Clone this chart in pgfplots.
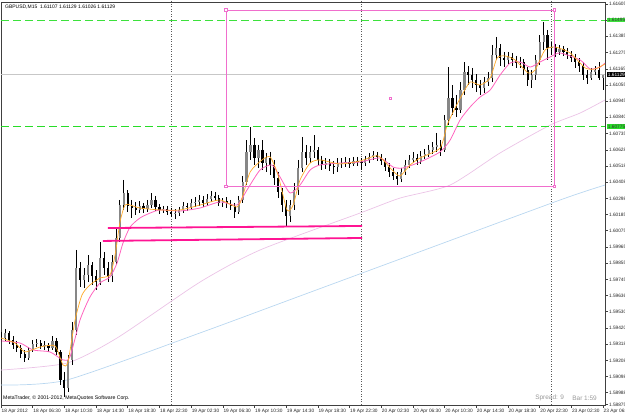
\documentclass[border=0pt]{standalone}
\usepackage{pgfplots}
\usepackage{pgfplotstable}
\pgfplotsset{compat=1.18}
\usepackage{fontspec}
\setmainfont{Liberation Sans}
\definecolor{maorange}{RGB}{255,170,40}
\definecolor{mapink}{RGB}{255,100,190}
\definecolor{malav}{RGB}{235,195,230}
\definecolor{mablue}{RGB}{185,215,240}
\definecolor{lvgreen}{RGB}{60,225,60}
\definecolor{lvgreenb}{RGB}{40,220,40}
\definecolor{rectpink}{RGB}{240,110,205}
\definecolor{trendpink}{RGB}{255,20,147}
\definecolor{bullgray}{RGB}{135,135,135}

\pgfplotstableread{
b o h l c
0 1.59367 1.59394 1.59327 1.59354
2 1.59354 1.59415 1.59334 1.59388
4 1.59388 1.59401 1.59313 1.59340
6 1.59340 1.59367 1.59280 1.59307
8 1.59307 1.59334 1.59260 1.59286
10 1.59286 1.59307 1.59219 1.59246
12 1.59246 1.59273 1.59192 1.59219
14 1.59219 1.59293 1.59206 1.59273
16 1.59273 1.59340 1.59260 1.59313
18 1.59313 1.59347 1.59293 1.59320
20 1.59320 1.59340 1.59280 1.59300
22 1.59300 1.59334 1.59273 1.59307
24 1.59307 1.59320 1.59260 1.59286
26 1.59286 1.59367 1.59273 1.59334
28 1.59334 1.59354 1.59239 1.59260
30 1.59260 1.59273 1.59037 1.59071
32 1.59071 1.59125 1.58956 1.59017
34 1.59017 1.59239 1.58990 1.59206
36 1.59206 1.59462 1.59172 1.59408
38 1.59408 1.59947 1.59374 1.59826
40 1.59826 1.59866 1.59698 1.59745
42 1.59745 1.59826 1.59691 1.59778
44 1.59778 1.59913 1.59731 1.59846
46 1.59846 1.59866 1.59711 1.59772
48 1.59772 1.59812 1.59677 1.59731
50 1.59731 1.60001 1.59711 1.59893
52 1.59893 1.59934 1.59778 1.59826
54 1.59826 1.59866 1.59731 1.59772
56 1.59772 1.59913 1.59731 1.59866
58 1.59866 1.60095 1.59846 1.60028
60 1.60028 1.60284 1.60001 1.60250
62 1.60250 1.60419 1.60217 1.60331
64 1.60331 1.60351 1.60203 1.60244
66 1.60244 1.60284 1.60163 1.60230
68 1.60230 1.60271 1.60183 1.60217
70 1.60217 1.60277 1.60196 1.60244
72 1.60244 1.60264 1.60196 1.60223
74 1.60223 1.60284 1.60203 1.60250
76 1.60250 1.60331 1.60230 1.60284
78 1.60284 1.60311 1.60210 1.60237
80 1.60237 1.60257 1.60190 1.60217
82 1.60217 1.60244 1.60196 1.60223
84 1.60223 1.60244 1.60183 1.60203
86 1.60203 1.60230 1.60169 1.60190
88 1.60190 1.60223 1.60156 1.60196
90 1.60196 1.60237 1.60176 1.60217
92 1.60217 1.60271 1.60196 1.60244
94 1.60244 1.60264 1.60210 1.60237
96 1.60237 1.60291 1.60217 1.60264
98 1.60264 1.60304 1.60237 1.60271
100 1.60271 1.60318 1.60244 1.60284
102 1.60284 1.60311 1.60237 1.60264
104 1.60264 1.60324 1.60244 1.60291
106 1.60291 1.60345 1.60271 1.60311
108 1.60311 1.60338 1.60277 1.60297
110 1.60297 1.60318 1.60244 1.60264
112 1.60264 1.60297 1.60237 1.60277
114 1.60277 1.60304 1.60230 1.60257
116 1.60257 1.60284 1.60217 1.60244
118 1.60244 1.60264 1.60163 1.60203
120 1.60203 1.60311 1.60190 1.60284
122 1.60284 1.60446 1.60264 1.60405
124 1.60405 1.60688 1.60385 1.60608
126 1.60608 1.60776 1.60554 1.60655
128 1.60655 1.60702 1.60520 1.60567
130 1.60567 1.60655 1.60500 1.60621
132 1.60621 1.60688 1.60486 1.60533
134 1.60533 1.60601 1.60473 1.60567
136 1.60567 1.60608 1.60452 1.60520
138 1.60520 1.60554 1.60385 1.60432
140 1.60432 1.60473 1.60297 1.60338
142 1.60338 1.60365 1.60203 1.60250
144 1.60250 1.60284 1.60102 1.60176
146 1.60176 1.60284 1.60136 1.60250
148 1.60250 1.60399 1.60217 1.60351
150 1.60351 1.60554 1.60318 1.60500
152 1.60500 1.60709 1.60473 1.60608
154 1.60608 1.60655 1.60520 1.60567
156 1.60567 1.60648 1.60533 1.60608
158 1.60608 1.60722 1.60567 1.60621
160 1.60621 1.60641 1.60513 1.60554
162 1.60554 1.60581 1.60486 1.60520
164 1.60520 1.60567 1.60493 1.60533
166 1.60533 1.60560 1.60479 1.60513
168 1.60513 1.60547 1.60459 1.60506
170 1.60506 1.60567 1.60473 1.60527
172 1.60527 1.60567 1.60500 1.60533
174 1.60533 1.60574 1.60506 1.60540
176 1.60540 1.60567 1.60500 1.60527
178 1.60527 1.60574 1.60513 1.60547
180 1.60547 1.60574 1.60513 1.60540
182 1.60540 1.60567 1.60486 1.60533
184 1.60533 1.60581 1.60513 1.60554
186 1.60554 1.60601 1.60533 1.60574
188 1.60574 1.60614 1.60554 1.60587
190 1.60587 1.60608 1.60547 1.60574
192 1.60574 1.60594 1.60520 1.60547
194 1.60547 1.60567 1.60479 1.60506
196 1.60506 1.60533 1.60439 1.60473
198 1.60473 1.60500 1.60419 1.60446
200 1.60446 1.60473 1.60385 1.60426
202 1.60426 1.60500 1.60405 1.60473
204 1.60473 1.60554 1.60452 1.60520
206 1.60520 1.60587 1.60500 1.60554
208 1.60554 1.60608 1.60533 1.60567
210 1.60567 1.60594 1.60520 1.60547
212 1.60547 1.60614 1.60527 1.60581
214 1.60581 1.60628 1.60560 1.60594
216 1.60594 1.60655 1.60574 1.60621
218 1.60621 1.60675 1.60594 1.60641
220 1.60641 1.60736 1.60608 1.60655
222 1.60655 1.60688 1.60581 1.60621
224 1.60621 1.60857 1.60608 1.60823
226 1.60823 1.61180 1.60789 1.60971
228 1.60971 1.61059 1.60857 1.60904
230 1.60904 1.60992 1.60843 1.60891
232 1.60891 1.61079 1.60870 1.61025
234 1.61025 1.61214 1.60992 1.61147
236 1.61147 1.61187 1.61059 1.61126
238 1.61126 1.61174 1.61039 1.61093
240 1.61093 1.61133 1.61012 1.61059
242 1.61059 1.61093 1.60992 1.61039
244 1.61039 1.61113 1.61005 1.61079
246 1.61079 1.61147 1.61052 1.61106
248 1.61106 1.61329 1.61079 1.61261
250 1.61261 1.61383 1.61228 1.61308
252 1.61308 1.61335 1.61187 1.61241
254 1.61241 1.61282 1.61180 1.61228
256 1.61228 1.61282 1.61201 1.61248
258 1.61248 1.61275 1.61187 1.61228
260 1.61228 1.61255 1.61174 1.61207
262 1.61207 1.61248 1.61174 1.61214
264 1.61214 1.61234 1.61126 1.61160
266 1.61160 1.61180 1.61052 1.61093
268 1.61093 1.61160 1.61039 1.61126
270 1.61126 1.61261 1.61093 1.61228
272 1.61228 1.61396 1.61194 1.61349
274 1.61349 1.61484 1.61295 1.61396
276 1.61396 1.61430 1.61228 1.61308
278 1.61308 1.61349 1.61261 1.61315
280 1.61315 1.61335 1.61248 1.61282
282 1.61282 1.61329 1.61261 1.61302
284 1.61302 1.61322 1.61255 1.61282
286 1.61282 1.61308 1.61234 1.61261
288 1.61261 1.61288 1.61214 1.61241
290 1.61241 1.61268 1.61174 1.61214
292 1.61214 1.61241 1.61147 1.61187
294 1.61187 1.61214 1.61093 1.61126
296 1.61126 1.61160 1.61066 1.61106
298 1.61106 1.61174 1.61093 1.61147
300 1.61147 1.61187 1.61126 1.61160
302 1.61160 1.61214 1.61093 1.61107
304 1.61107 1.61129 1.61026 1.61129
}\candles

\begin{document}
\begin{tikzpicture}[x=1bp,y=1bp]
\useasboundingbox (0,0) rectangle (625,416);
\begin{axis}[
  at={(1bp,11bp)}, anchor=south west,
  scale only axis, width=604bp, height=403bp,
  xmin=0, xmax=305, ymin=1.589023, ymax=1.616185,
  clip mode=individual,
  axis line style={black!75, line width=0.6bp},
  xtick pos=bottom, ytick pos=right, yticklabel pos=right,
  tick align=outside, major tick length=3bp,
  tick style={black!75, line width=0.5bp},
  scaled y ticks=false, scaled x ticks=false,
  ticklabel style={font=\fontsize{4.8}{5.5}\selectfont, text=black!85},
  xticklabel style={anchor=north west, inner xsep=0.5bp, inner ysep=0.5bp},
  yticklabel style={anchor=west, inner xsep=0.8bp},
  xtick={0,16,...,304},
  xticklabels={18 Apr 2012,18 Apr 06:30,18 Apr 10:30,18 Apr 14:30,18 Apr 18:30,18 Apr 22:30,19 Apr 02:30,19 Apr 06:30,19 Apr 10:30,19 Apr 14:30,19 Apr 18:30,19 Apr 22:30,20 Apr 02:30,20 Apr 06:30,20 Apr 10:30,20 Apr 14:30,20 Apr 18:30,20 Apr 22:30,23 Apr 02:30,23 Apr 06:30},
  ytick={1.61605,1.61496,1.61387,1.61277,1.61168,1.61059,1.60950,1.60841,1.60732,1.60622,1.60513,1.60404,1.60295,1.60186,1.60077,1.59967,1.59858,1.59749,1.59640,1.59531,1.59422,1.59312,1.59203,1.59094,1.58985,1.58905},
  yticklabels={1.61605,,1.61385,1.61275,1.61165,1.61055,1.60945,1.60840,1.60735,1.60628,1.60518,1.60408,1.60298,1.60185,1.60075,1.59965,1.59855,1.59745,1.59636,1.59530,1.59420,1.59318,1.59208,1.59098,1.58988,1.58875},
]
% day separators
\addplot[black!65, line width=0.5bp, dash pattern=on 1bp off 1.5bp, forget plot] coordinates {(86,1.585) (86,1.62)};
\addplot[black!65, line width=0.5bp, dash pattern=on 1bp off 1.5bp, forget plot] coordinates {(182,1.585) (182,1.62)};
\addplot[black!65, line width=0.5bp, dash pattern=on 1bp off 1.5bp, forget plot] coordinates {(278,1.585) (278,1.62)};
% bid line
\addplot[black!22, line width=0.5bp, forget plot] coordinates {(0,1.61129) (305,1.61129)};
% slow moving averages
\addplot[malav, line width=0.7bp, smooth, tension=0.4, forget plot] coordinates {
(0,1.59138) (33.3,1.59185) (58.6,1.59354) (100.5,1.59731) (130.8,1.59947) (181.3,1.60196) (201.5,1.60297) (226.8,1.60385) (252,1.60601) (277.3,1.60789) (292.4,1.60870) (305,1.60958)};
\addplot[mablue, line width=0.7bp, smooth, tension=0.4, forget plot] coordinates {
(0,1.59037) (33.3,1.59071) (100.5,1.59388) (151,1.59637) (201.5,1.59886) (282.3,1.60284) (305,1.60385)};
% candles: wicks
\addplot[draw=none, mark=none, forget plot,
  error bars/.cd, y dir=minus, y explicit, error mark=none,
  error bar style={draw=black, line width=0.7bp}]
  table[x=b, y=h, y error minus expr={\thisrow{h}-\thisrow{l}}] {\candles};
% bullish bodies
\addplot[draw=none, mark=none, forget plot,
  error bars/.cd, y dir=minus, y explicit, error mark=none,
  error bar style={draw=bullgray, line width=2.2bp}]
  table[x=b, y=c, y error minus expr={max(\thisrow{c}-\thisrow{o},0)}] {\candles};
% bearish bodies
\addplot[draw=none, mark=none, forget plot,
  error bars/.cd, y dir=minus, y explicit, error mark=none,
  error bar style={draw=black, line width=2.2bp}]
  table[x=b, y=o, y error minus expr={max(\thisrow{o}-\thisrow{c},0)}] {\candles};
% fast moving averages
\addplot[mapink, line width=0.8bp, smooth, tension=0.4, forget plot] coordinates {
(0,1.59334) (9.6,1.59320) (16.2,1.59273) (24.7,1.59260) (31.3,1.59206) (34.8,1.59226) (39.9,1.59475) (44.9,1.59630) (50,1.59725) (55,1.59765) (58.6,1.59859) (61.6,1.59994) (65.2,1.60102) (70.2,1.60163) (75.3,1.60196) (80.3,1.60217) (90.4,1.60210) (100.5,1.60230) (110.6,1.60271) (119.2,1.60250) (124.2,1.60351) (130.8,1.60486) (136.9,1.60520) (140.9,1.60439) (146,1.60331) (151,1.60385) (156.1,1.60486) (161.1,1.60520) (171.2,1.60533) (181.3,1.60540) (191.4,1.60567) (198,1.60506) (203,1.60500) (211.6,1.60540) (221.7,1.60608) (226.8,1.60688) (231.8,1.60823) (236.9,1.60911) (241.9,1.60978) (247,1.61025) (252,1.61126) (257.1,1.61207) (262.1,1.61214) (267.2,1.61180) (272.2,1.61214) (277.3,1.61248) (282.3,1.61275) (292.4,1.61228) (297.5,1.61167) (302.5,1.61180) (305,1.61207)};
\addplot[maorange, line width=0.7bp, smooth, tension=0.4, forget plot] coordinates {
(0,1.59354) (7.1,1.59320) (12.1,1.59260) (19.7,1.59293) (27.3,1.59300) (31.3,1.59172) (33.8,1.59192) (37.4,1.59475) (40.9,1.59644) (44.9,1.59711) (50,1.59758) (55,1.59778) (57.6,1.59913) (60.1,1.60136) (62.6,1.60250) (65.2,1.60250) (70.2,1.60230) (80.3,1.60217) (90.4,1.60217) (100.5,1.60250) (110.6,1.60284) (119.2,1.60237) (122.2,1.60318) (125.8,1.60473) (131.8,1.60554) (135.9,1.60574) (139.9,1.60452) (144.4,1.60217) (147.5,1.60250) (151,1.60419) (156.1,1.60533) (161.1,1.60554) (171.2,1.60527) (181.3,1.60547) (190.4,1.60581) (197.5,1.60486) (201.5,1.60446) (206.6,1.60520) (211.6,1.60567) (221.7,1.60634) (225.3,1.60789) (229.3,1.60904) (232.8,1.60992) (236.9,1.61079) (241.9,1.61059) (247,1.61106) (250.5,1.61241) (254.5,1.61255) (259.6,1.61228) (266.2,1.61140) (269.7,1.61160) (274.7,1.61295) (279.8,1.61315) (287.4,1.61275) (295,1.61174) (300,1.61167) (305,1.61201)};
% horizontal levels
\addplot[draw=lvgreen, line width=1bp, dash pattern=on 8bp off 4bp, forget plot] coordinates {(0,1.61497) (305,1.61497)};
\addplot[draw=lvgreenb, line width=1bp, dash pattern=on 8bp off 4bp, forget plot] coordinates {(0,1.60780) (305,1.60780)};
% rectangle
\addplot[rectpink, line width=0.7bp, mark=square*, mark size=1.2bp, mark options={fill=white}, forget plot] coordinates {
(113.6,1.61565) (279.3,1.61565) (279.3,1.60378) (113.6,1.60378) (113.6,1.61565)};
\addplot[rectpink, only marks, mark=square*, mark size=1.2bp, mark options={fill=white}, forget plot] coordinates {(196.5,1.60971)};
% trend lines
\addplot[trendpink, line width=1.8bp, forget plot] coordinates {(54,1.60095) (182.3,1.60109)};
\addplot[trendpink, line width=1.8bp, forget plot] coordinates {(51.5,1.60008) (182.3,1.60028)};
% price labels
\node[anchor=west, fill=lvgreen, text=black!80, inner sep=0.7bp, xshift=2bp, font=\fontsize{4.8}{5.5}\selectfont] at (axis cs:305,1.61497) {1.61495};
\node[anchor=west, fill=lvgreenb, text=black!80, inner sep=0.7bp, xshift=2bp, font=\fontsize{4.8}{5.5}\selectfont] at (axis cs:305,1.60780) {1.60775};
\node[anchor=west, fill=black, text=white, inner sep=0.7bp, xshift=2bp, font=\fontsize{4.8}{5.5}\selectfont] at (axis cs:305,1.61129) {1.61129};
% texts
\node[anchor=north west, inner sep=0pt, font=\fontsize{5}{6}\selectfont] at (rel axis cs:0,1) [xshift=4bp, yshift=-3bp] {GBPUSD,M15\ \ 1.61107 1.61129 1.61026 1.61129};
\node[anchor=south west, inner sep=0pt, font=\fontsize{5.2}{6}\selectfont] at (rel axis cs:0,0) [xshift=2bp, yshift=4bp] {MetaTrader, © 2001-2012, MetaQuotes Software Corp.};
\node[anchor=south west, inner sep=0pt, text=black!40, font=\fontsize{6.5}{7.5}\selectfont] at (axis cs:269.7,1.589023) [yshift=4bp] {Spread: 9};
\node[anchor=south west, inner sep=0pt, text=black!40, font=\fontsize{6.5}{7.5}\selectfont] at (axis cs:288.4,1.589023) [yshift=4bp] {Bar 1:59};
\end{axis}
\end{tikzpicture}
\end{document}
